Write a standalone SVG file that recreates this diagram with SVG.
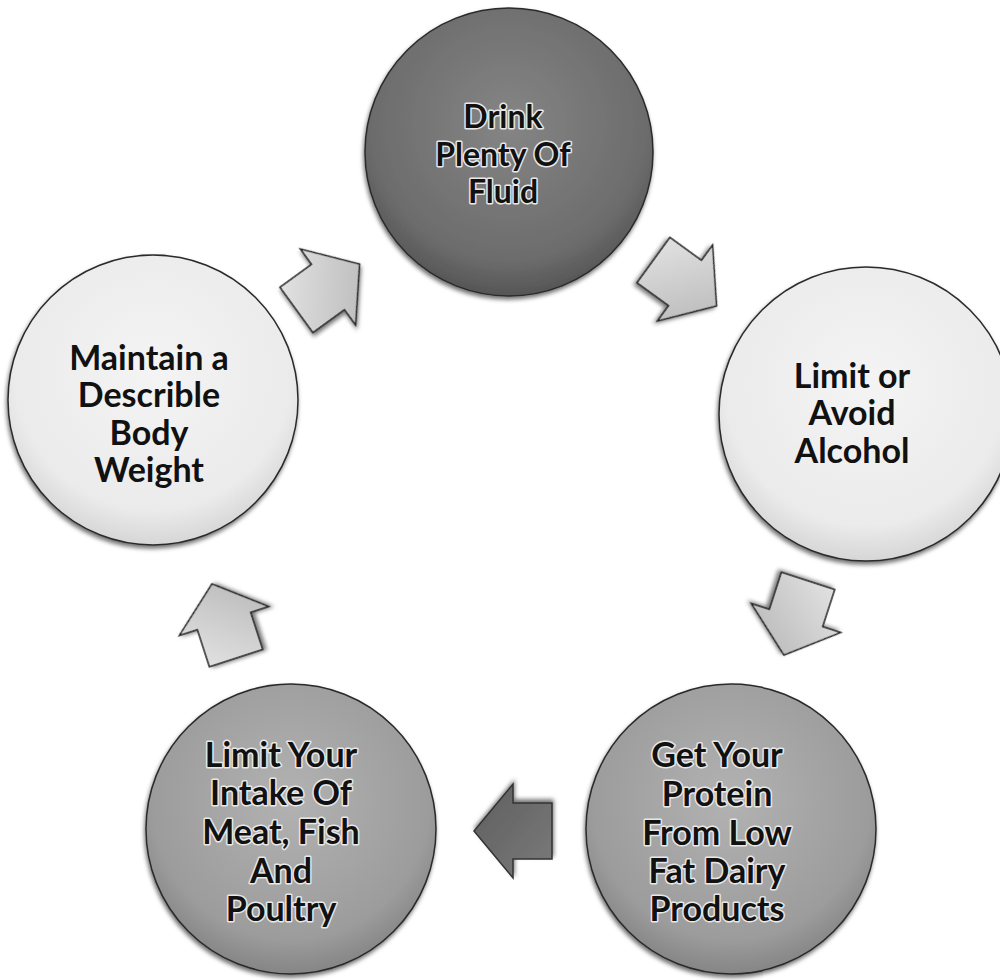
<svg xmlns="http://www.w3.org/2000/svg" width="1000" height="980" viewBox="0 0 1000 980">
  <defs>
    <radialGradient id="gDark" cx="0.5" cy="0.4" r="0.6">
      <stop offset="0" stop-color="#858585"/>
      <stop offset="0.8" stop-color="#6c6c6c"/>
      <stop offset="1" stop-color="#555555"/>
    </radialGradient>
    <radialGradient id="gMid" cx="0.5" cy="0.4" r="0.6">
      <stop offset="0" stop-color="#b2b2b2"/>
      <stop offset="0.8" stop-color="#9c9c9c"/>
      <stop offset="1" stop-color="#858585"/>
    </radialGradient>
    <radialGradient id="gLight" cx="0.5" cy="0.4" r="0.6">
      <stop offset="0" stop-color="#f4f4f4"/>
      <stop offset="0.8" stop-color="#ebebeb"/>
      <stop offset="1" stop-color="#d6d6d6"/>
    </radialGradient>
    <linearGradient id="gArrow" x1="0" y1="0" x2="1" y2="1">
      <stop offset="0" stop-color="#e6e6e6"/>
      <stop offset="1" stop-color="#b4b4b4"/>
    </linearGradient>
    <linearGradient id="gArrowDark" x1="0" y1="0" x2="1" y2="1">
      <stop offset="0" stop-color="#7a7a7a"/>
      <stop offset="1" stop-color="#5e5e5e"/>
    </linearGradient>
    <filter id="shadow" x="-10%" y="-10%" width="120%" height="125%">
      <feDropShadow dx="-1" dy="3" stdDeviation="2" flood-color="#000" flood-opacity="0.55"/>
    </filter>
    <path id="arrowShape" d="M -39,-28 L 0,-28 L 0,-47 L 39,0 L 0,47 L 0,28 L -39,28 Z"/>
  </defs>
  <style>
    .node { stroke: #2a2a2a; stroke-width: 1.5; filter: url(#shadow); }
    .lbl { font-family: Lato, "Open Sans", "Liberation Sans", sans-serif; font-weight: bold; font-size: 34px; text-anchor: middle; fill: #111; }
    .halo { stroke: #e8e8e8; stroke-width: 3; paint-order: stroke; stroke-linejoin: round; }
    .top { font-size: 32px; }
    .arrow { fill: url(#gArrow); stroke: #222; stroke-width: 1.5; stroke-linejoin: miter; filter: url(#shadow); }
    .arrowDark { fill: url(#gArrowDark); stroke: #333; stroke-width: 1.5; filter: url(#shadow); }
  </style>
  <rect width="1000" height="980" fill="#ffffff"/>

  <g id="connectors">
    <use href="#arrowShape" class="arrow" transform="translate(328,287) rotate(-36)"/>
    <use href="#arrowShape" class="arrow" transform="translate(685,283) rotate(36)"/>
    <use href="#arrowShape" class="arrow" transform="translate(796,618) rotate(108)"/>
    <use href="#arrowShape" class="arrowDark" transform="translate(513,831) rotate(180)"/>
    <use href="#arrowShape" class="arrow" transform="translate(224,621) rotate(252)"/>
  </g>

  <g id="node-drink">
    <circle class="node" cx="509" cy="152" r="144" fill="url(#gDark)"/>
    <text class="lbl top halo" x="503" y="128">Drink</text>
    <text class="lbl top halo" x="503" y="166">Plenty Of</text>
    <text class="lbl top halo" x="503" y="203">Fluid</text>
  </g>

  <g id="node-alcohol">
    <circle class="node" cx="866" cy="414" r="147" fill="url(#gLight)"/>
    <text class="lbl" x="852" y="388">Limit or</text>
    <text class="lbl" x="852" y="425">Avoid</text>
    <text class="lbl" x="852" y="463">Alcohol</text>
  </g>

  <g id="node-protein">
    <circle class="node" cx="731" cy="829" r="145" fill="url(#gMid)"/>
    <text class="lbl halo" x="717" y="767">Get Your</text>
    <text class="lbl halo" x="717" y="806">Protein</text>
    <text class="lbl halo" x="717" y="845">From Low</text>
    <text class="lbl halo" x="717" y="883">Fat Dairy</text>
    <text class="lbl halo" x="717" y="921">Products</text>
  </g>

  <g id="node-meat">
    <circle class="node" cx="291" cy="829" r="145" fill="url(#gMid)"/>
    <text class="lbl halo" x="281" y="767">Limit Your</text>
    <text class="lbl halo" x="281" y="805">Intake Of</text>
    <text class="lbl halo" x="281" y="844">Meat, Fish</text>
    <text class="lbl halo" x="281" y="883">And</text>
    <text class="lbl halo" x="281" y="921">Poultry</text>
  </g>

  <g id="node-weight">
    <circle class="node" cx="153" cy="400" r="145" fill="url(#gLight)"/>
    <text class="lbl" x="149" y="370">Maintain a</text>
    <text class="lbl" x="149" y="407">Describle</text>
    <text class="lbl" x="149" y="445">Body</text>
    <text class="lbl" x="149" y="482">Weight</text>
  </g>
</svg>
